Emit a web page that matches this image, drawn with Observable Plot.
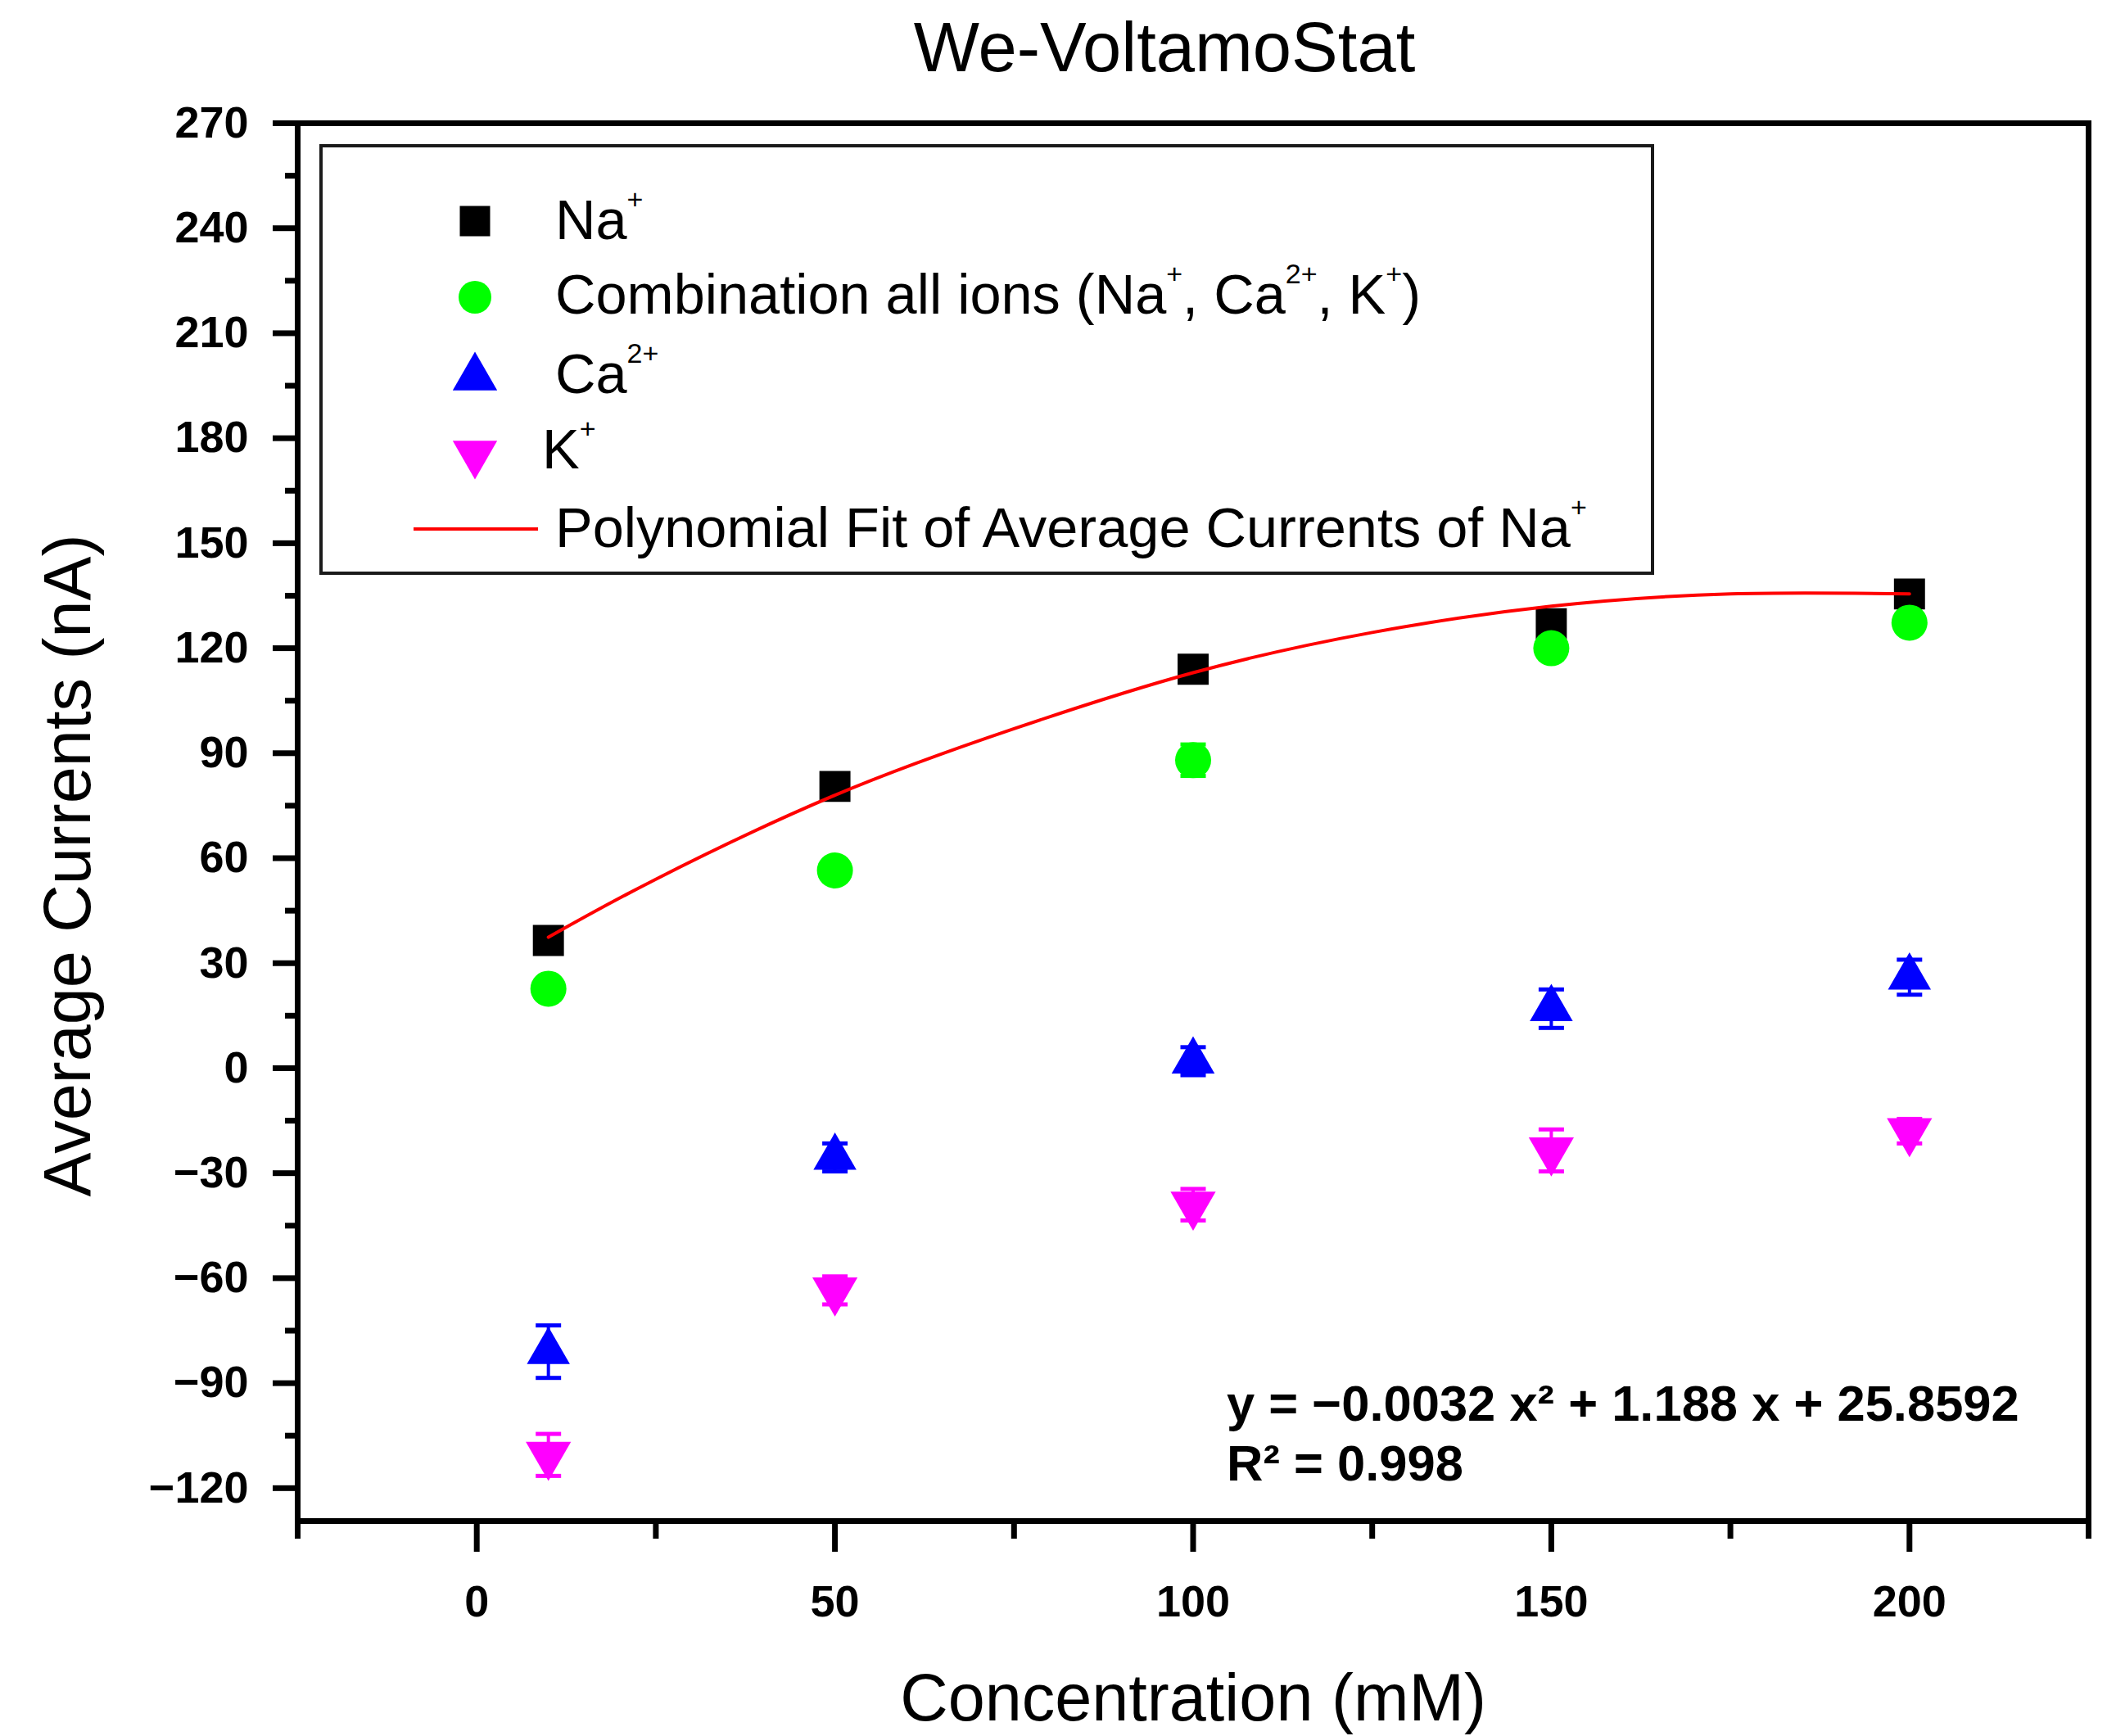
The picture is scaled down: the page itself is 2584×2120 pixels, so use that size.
<!DOCTYPE html>
<html>
<head>
<meta charset="utf-8">
<script src="https://cdn.jsdelivr.net/npm/d3@7"></script>
<script src="https://cdn.jsdelivr.net/npm/@observablehq/plot@0.6"></script>
<style>
html, body { margin: 0; padding: 0; background: #fff; }
#wrap { position: relative; width: 2584px; height: 2120px; overflow: hidden; font-family: "Liberation Sans", Arial, sans-serif; background: #fff; }
#title { position: absolute; left: 0; top: 0; width: 2584px; height: 120px; margin: 0; }
#title span { position: absolute; left: 1422px; top: 15px; transform: translateX(-50%); font-size: 85px; line-height: 85px; font-weight: normal; white-space: nowrap; color: #000; }
#chart { position: absolute; left: 0; top: 120px; }
#overlay { position: absolute; left: 0; top: 0; pointer-events: none; }
</style>
</head>
<body>
<div id="wrap">
  <div id="title"><span id="titleText"></span></div>
  <div id="chart"></div>
</div>
<script>
// ---------------- data ----------------
const titleText = "We-VoltamoStat";
const xLabel = "Concentration (mM)";
const yLabel = "Average Currents (nA)";

const concentrations = [10, 50, 100, 150, 200];

const naMeans = [36.5, 80.5, 114, 127, 135.5];
const naErrors = [1.5, 2, 1.5, 2.5, 1.5];

const comboMeans = [22.7, 56.5, 88, 120, 127.3];
const comboErrors = [1.5, 2, 4.5, 2, 1.5];

const caMeans = [-81, -25.5, 2, 17, 26];
const caErrors = [7.5, 4, 4, 5.5, 5];

const kMeans = [-110.5, -63.5, -39, -23.5, -18];
const kErrors = [6, 4, 4.5, 6, 3.5];

// red fit curve
const fitConcentrations = [10, 25, 50, 75, 100, 125, 150, 175, 200];
const fitCurrents = [37.4, 54, 78, 97, 113, 124.5, 132, 135.5, 135.5];

const xMajorTicks = [0, 50, 100, 150, 200];
const xMinorTicks = [-25, 25, 75, 125, 175, 225];
const yMajorTicks = [-120, -90, -60, -30, 0, 30, 60, 90, 120, 150, 180, 210, 240, 270];
const yMinorTicks = [-105, -75, -45, -15, 15, 45, 75, 105, 135, 165, 195, 225, 255];
const xDomain = [-25, 225];
const yDomain = [-129.4, 270];

const equationLines = ["y = \u22120.0032 x\u00b2 + 1.188 x + 25.8592", "R\u00b2 = 0.998"];

// ---------------- symbols ----------------
const SQ3 = Math.sqrt(3);
const triangleDown = {
  draw(ctx, size) {
    const y = Math.sqrt(size / (SQ3 * 3));
    ctx.moveTo(0, 2 * y);
    ctx.lineTo(-SQ3 * y, -y);
    ctx.lineTo(SQ3 * y, -y);
    ctx.closePath();
  }
};
const capSymbol = {
  draw(ctx) { ctx.moveTo(-15.5, 0); ctx.lineTo(15.5, 0); }
};

const series = [
  {name: "Na+", means: naMeans, errors: naErrors, color: "#000000", symbol: "square", r: 21.4},
  {name: "Combination", means: comboMeans, errors: comboErrors, color: "#00ff00", symbol: "circle", r: 22},
  {name: "Ca2+", means: caMeans, errors: caErrors, color: "#0000ff", symbol: "triangle", r: 19.5},
  {name: "K+", means: kMeans, errors: kErrors, color: "#ff00ff", symbol: triangleDown, r: 20.5}
];

const rowsOf = s => concentrations.map((c, i) => ({x: c, y: s.means[i], e: s.errors[i]}));
const fitRows = fitConcentrations.map((c, i) => ({x: c, y: fitCurrents[i]}));

const signed = d => d < 0 ? "\u2212" + (-d) : String(d);

const marks = [
  Plot.frame({strokeWidth: 7, stroke: "#000"}),
  Plot.axisY(yMajorTicks, {tickSize: 30, tickPadding: 30, fontSize: 54, fontWeight: "bold", strokeWidth: 7, tickFormat: signed, label: null}),
  Plot.axisY(yMinorTicks, {tickSize: 15, strokeWidth: 7, tickFormat: () => "", label: null}),
  Plot.axisX(xMajorTicks, {tickSize: 38, tickPadding: 40, fontSize: 54, fontWeight: "bold", strokeWidth: 7, tickFormat: signed, label: null}),
  Plot.axisX(xMinorTicks, {tickSize: 22, strokeWidth: 7, tickFormat: () => "", label: null})
];

for (const s of series) {
  const rows = rowsOf(s);
  marks.push(Plot.ruleX(rows, {x: "x", y1: d => d.y - d.e, y2: d => d.y + d.e, stroke: s.color, strokeWidth: 4}));
  marks.push(Plot.dot(rows, {x: "x", y: d => d.y + d.e, symbol: capSymbol, r: 10, fill: "none", stroke: s.color, strokeWidth: 5}));
  marks.push(Plot.dot(rows, {x: "x", y: d => d.y - d.e, symbol: capSymbol, r: 10, fill: "none", stroke: s.color, strokeWidth: 5}));
}
for (const s of series) {
  marks.push(Plot.dot(rowsOf(s), {x: "x", y: "y", symbol: s.symbol, r: s.r, fill: s.color, stroke: "none"}));
}
marks.push(Plot.line(fitRows, {x: "x", y: "y", stroke: "#ff0000", strokeWidth: 4, curve: "natural"}));

marks.push(Plot.text([xLabel], {text: d => d, frameAnchor: "bottom", dy: 218, fontSize: 81, lineAnchor: "middle", fill: "#000"}));
marks.push(Plot.text([yLabel], {text: d => d, frameAnchor: "left", rotate: -90, dx: -279, dy: 53, fontSize: 81, textAnchor: "middle", lineAnchor: "middle", fill: "#000"}));

const chart = Plot.plot({
  width: 2584,
  height: 2000,
  marginLeft: 363,
  marginRight: 34,
  marginTop: 30,
  marginBottom: 263,
  style: {fontFamily: "'Liberation Sans', Arial, sans-serif", background: "#fff", color: "#000", overflow: "visible"},
  x: {domain: xDomain},
  y: {domain: yDomain},
  marks
});
document.getElementById("chart").appendChild(chart);
document.getElementById("titleText").textContent = titleText;

// ---------------- legend & annotation overlay ----------------
const ov = d3.select("#wrap").append("svg")
  .attr("id", "overlay")
  .attr("width", 2584).attr("height", 2120)
  .style("font-family", "'Liberation Sans', Arial, sans-serif");

ov.append("rect")
  .attr("x", 392).attr("y", 178).attr("width", 1626).attr("height", 522)
  .attr("fill", "none").attr("stroke", "#1a1a1a").attr("stroke-width", 4);

const legendItems = [
  {parts: [["Na", 0], ["+", 1]], kind: "square", color: "#000000", cy: 270, base: 292, tx: 678},
  {parts: [["Combination all ions (Na", 0], ["+", 1], [", Ca", 0], ["2+", 1], [", K", 0], ["+", 1], [")", 0]], kind: "circle", color: "#00ff00", cy: 363, base: 383, tx: 678},
  {parts: [["Ca", 0], ["2+", 1]], kind: "triangle", color: "#0000ff", cy: 461, base: 480, tx: 678},
  {parts: [["K", 0], ["+", 1]], kind: "triangleDown", color: "#ff00ff", cy: 554, base: 572, tx: 662},
  {parts: [["Polynomial Fit of Average Currents of Na", 0], ["+", 1]], kind: "line", color: "#ff0000", cy: 646, base: 668, tx: 678}
];

for (const it of legendItems) {
  if (it.kind === "line") {
    ov.append("line").attr("x1", 505).attr("x2", 657).attr("y1", it.cy).attr("y2", it.cy)
      .attr("stroke", it.color).attr("stroke-width", 4);
  } else {
    const type = it.kind === "square" ? d3.symbolSquare : it.kind === "circle" ? d3.symbolCircle : it.kind === "triangle" ? d3.symbolTriangle : triangleDown;
    const size = it.kind === "square" ? 37 * 37 : it.kind === "circle" ? Math.PI * 20 * 20 : 1281;
    ov.append("path").attr("transform", `translate(580,${it.cy})`)
      .attr("d", d3.symbol(type, size)()).attr("fill", it.color);
  }
  const t = ov.append("text").attr("x", it.tx).attr("y", it.base).attr("font-size", 68.5).attr("fill", "#000");
  let raised = false;
  for (const [str, sup] of it.parts) {
    const ts = t.append("tspan").text(str);
    if (sup && !raised) { ts.attr("dy", -37).attr("font-size", 34); raised = true; }
    else if (sup) { ts.attr("font-size", 34); }
    else if (!sup && raised) { ts.attr("dy", 37); raised = false; }
  }
}

equationLines.forEach((line, i) => {
  ov.append("text").attr("x", 1498).attr("y", 1735 + i * 73)
    .attr("font-size", 61.5).attr("font-weight", "bold").attr("fill", "#000").text(line);
});
</script>
</body>
</html>
